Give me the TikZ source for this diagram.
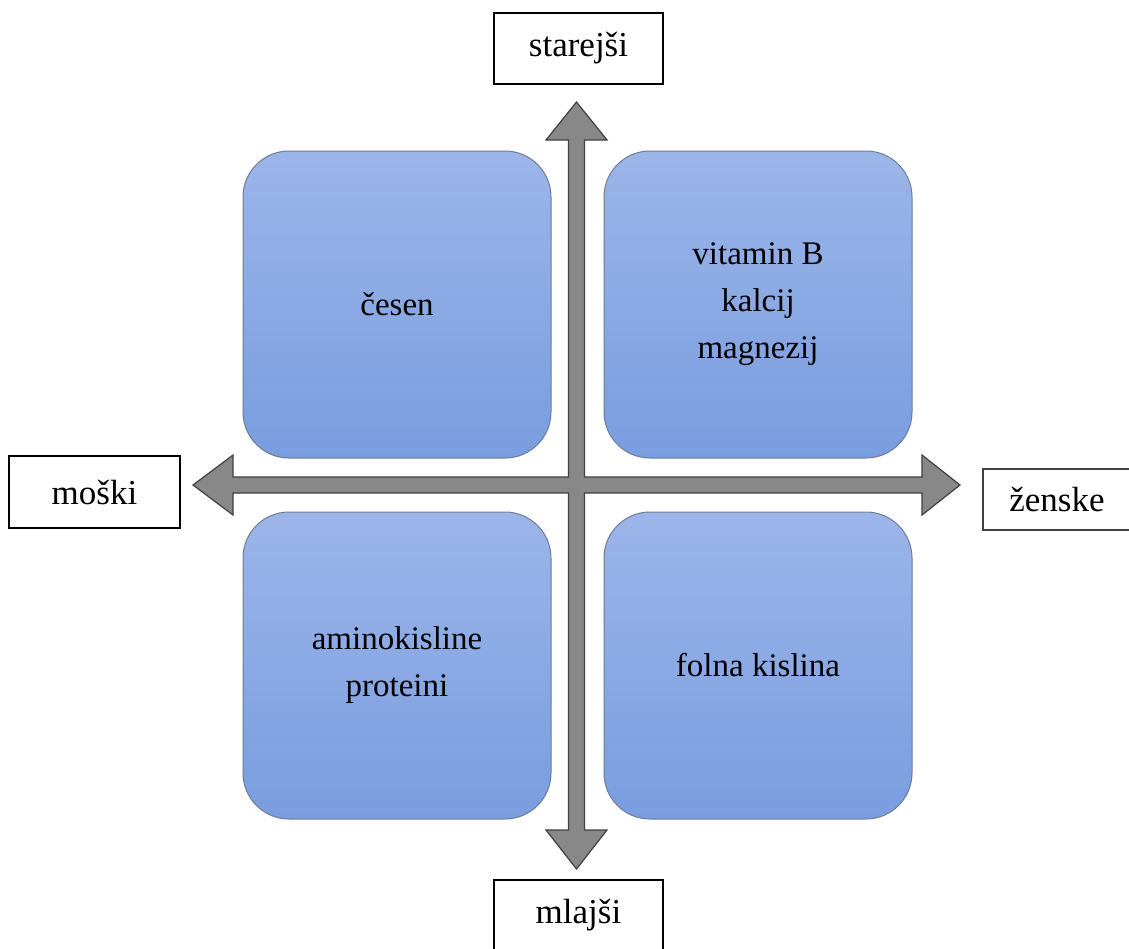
\documentclass[tikz,border=0pt]{standalone}
\usepackage{fontspec}
\setmainfont{Liberation Serif}
\definecolor{quadtop}{RGB}{156,181,233}
\definecolor{quadbot}{RGB}{121,157,223}
\definecolor{quadedge}{RGB}{110,124,150}
\definecolor{axisfill}{RGB}{136,136,136}
\definecolor{axisedge}{RGB}{64,64,64}
\tikzset{
  quad/.style={draw=quadedge, line width=1pt, rounded corners=46pt,
    top color=quadtop, bottom color=quadbot,
    minimum width=308pt, minimum height=307pt, align=center,
    inner sep=0pt, font=\fontsize{33}{47}\selectfont},
  axislabel/.style={draw=black, line width=2.5pt, fill=white,
    inner sep=0pt, font=\fontsize{35}{42}\selectfont},
}
\begin{document}
\begin{tikzpicture}[x=1pt,y=-1pt]
  \clip (0,0) rectangle (1129,948);
  \fill[white] (0,0) rectangle (1129,948);

  % four quadrant boxes
  \node[quad] (q1) at (397,304.5) {česen};
  \node[quad] (q2) at (758,304.5) {vitamin B\\kalcij\\magnezij};
  \node[quad] (q3) at (397,665.5) {aminokisline\\proteini};
  \node[quad] (q4) at (758,665.5) {folna kislina};

  % the cross of two double-headed axes, one outline
  \coordinate (c) at (576.5,485);
  \begin{scope}[shift={(c)}]
    \draw[fill=axisfill, draw=axisedge, line width=1.2pt, line join=miter]
      (8,-8) -- (8,-345) -- (30.5,-345) -- (0,-383) -- (-30.5,-345) -- (-8,-345)
      -- (-8,-8) -- (-343.5,-8) -- (-343.5,-30) -- (-383.5,0) -- (-343.5,30) -- (-343.5,8)
      -- (-8,8) -- (-8,345) -- (-30.5,345) -- (0,384) -- (30.5,345) -- (8,345)
      -- (8,8) -- (345.5,8) -- (345.5,30) -- (383.5,0) -- (345.5,-30) -- (345.5,-8)
      -- cycle;
  \end{scope}

  % axis end labels
  \node[axislabel, minimum width=169pt, minimum height=71pt] (up) at (578.5,48.5) {starejši};
  \node[axislabel, minimum width=171pt, minimum height=72pt] (left) at (94.5,492) {moški};
  \node[axislabel, draw=axisedge, line width=1.3pt, minimum width=148pt, minimum height=61pt] (right) at (1057,499.5) {ženske};
  \node[axislabel, minimum width=169pt, minimum height=71pt] (down) at (578.5,915.5) {mlajši};
\end{tikzpicture}
\end{document}
